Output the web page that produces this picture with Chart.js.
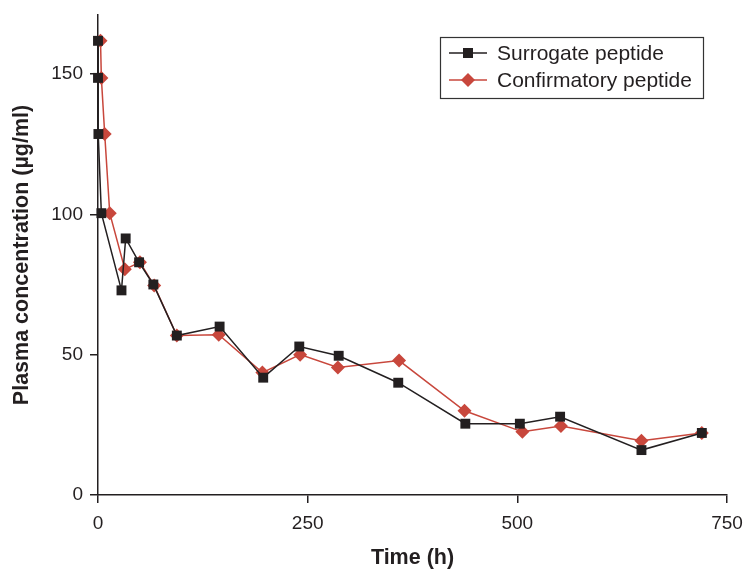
<!DOCTYPE html>
<html>
<head>
<meta charset="utf-8">
<script src="https://cdn.jsdelivr.net/npm/chart.js@4"></script>
<style>
  html, body { margin: 0; padding: 0; background: #fff; }
  #wrap { width: 744px; height: 571px; }
</style>
</head>
<body>
<div id="wrap"><canvas id="chart"></canvas></div>
<script>
// values
const surrogateTime = [0, 0, 0.5, 4, 28, 33, 49, 66, 94, 145, 197, 240, 287, 358, 438, 503, 551, 648, 720];
const surrogateConc = [161.8, 148.6, 128.6, 100.4, 72.9, 91.4, 82.9, 75, 56.8, 60, 41.8, 52.9, 49.6, 40, 25.4, 25.4, 27.9, 16, 22.1];
const confirmTime = [3, 4, 8, 14, 32, 50, 67, 94, 144, 196, 241, 286, 359, 437, 506, 552, 648, 720];
const confirmConc = [161.8, 148.6, 128.6, 100.4, 80.4, 82.9, 74.6, 56.8, 57.1, 43.6, 50, 45.4, 47.9, 30, 22.5, 24.6, 19.3, 22.1];
const xTicks = [0, 250, 500, 750];
const yTicks = [0, 50, 100, 150];

const ink = '#231f20';
const red = '#c8473c';
const font = 'Liberation Sans, Arial, sans-serif';

const toPoints = (xs, ys) => xs.map((x, i) => ({ x: x, y: ys[i] }));

// boxed legend inside the plot, top right
const boxLegend = {
    id: 'boxLegend',
    afterDraw(chart) {
        const ctx = chart.ctx;
        const left = 440, top = 37, w = 263, h = 61;
        ctx.save();
        ctx.strokeStyle = '#333';
        ctx.lineWidth = 1.2;
        ctx.strokeRect(left + 0.5, top + 0.5, w, h);
        chart.data.datasets.forEach((ds, i) => {
            const y = top + 16 + i * 27;
            ctx.strokeStyle = ds.borderColor;
            ctx.lineWidth = 1.5;
            ctx.beginPath();
            ctx.moveTo(left + 9, y);
            ctx.lineTo(left + 47, y);
            ctx.stroke();
            ctx.fillStyle = ds.backgroundColor;
            if (ds.pointStyle === 'rect') {
                ctx.fillRect(left + 28 - 5, y - 5, 10, 10);
            } else {
                ctx.beginPath();
                ctx.moveTo(left + 28, y - 7);
                ctx.lineTo(left + 35, y);
                ctx.lineTo(left + 28, y + 7);
                ctx.lineTo(left + 21, y);
                ctx.closePath();
                ctx.fill();
            }
            ctx.fillStyle = ink;
            ctx.font = '21px ' + font;
            ctx.textBaseline = 'middle';
            ctx.fillText(ds.label, left + 57, y + 1);
        });
        ctx.restore();
    }
};

new Chart(document.getElementById('chart'), {
    type: 'line',
    data: {
        datasets: [
            {
                label: 'Surrogate peptide',
                data: toPoints(surrogateTime, surrogateConc),
                borderColor: ink,
                backgroundColor: ink,
                borderWidth: 1.5,
                pointStyle: 'rect',
                pointRadius: 7,
                pointBorderWidth: 0,
                clip: false
            },
            {
                label: 'Confirmatory peptide',
                data: toPoints(confirmTime, confirmConc),
                borderColor: red,
                backgroundColor: red,
                borderWidth: 1.5,
                pointStyle: 'rectRot',
                pointRadius: 7,
                pointBorderWidth: 0,
                clip: false
            }
        ]
    },
    options: {
        responsive: true,
        maintainAspectRatio: false,
        animation: false,
        layout: { padding: { top: 15, right: 17, left: 0, bottom: 0 } },
        plugins: { legend: { display: false }, tooltip: { enabled: false } },
        scales: {
            x: {
                type: 'linear',
                min: 0,
                max: 750,
                afterBuildTicks: (s) => { s.ticks = xTicks.map((v) => ({ value: v })); },
                afterFit: (s) => { s.height = 76; s.paddingRight = 0; s.paddingLeft = 0; },
                border: { color: ink, width: 1.5 },
                grid: { drawOnChartArea: false, tickLength: 8, color: ink, lineWidth: 1.5 },
                ticks: { color: ink, padding: 9, font: { family: font, size: 19 } },
                title: {
                    display: true,
                    text: 'Time (h)',
                    color: ink,
                    padding: { top: 0, bottom: 0 },
                    font: { family: font, size: 21.5, weight: 'bold' }
                }
            },
            y: {
                min: 0,
                max: 171,
                afterBuildTicks: (s) => { s.ticks = yTicks.map((v) => ({ value: v })); },
                afterFit: (s) => { s.width = 98; s.paddingTop = 0; s.paddingBottom = 0; },
                border: { color: ink, width: 1.5 },
                grid: { drawOnChartArea: false, tickLength: 8, color: ink, lineWidth: 1.5 },
                ticks: { color: ink, padding: 7, font: { family: font, size: 19 } },
                title: {
                    display: true,
                    text: 'Plasma concentration (µg/ml)',
                    color: ink,
                    padding: { top: 9, bottom: 9 },
                    font: { family: font, size: 21.5, weight: 'bold' }
                }
            }
        }
    },
    plugins: [boxLegend]
});
</script>
</body>
</html>
